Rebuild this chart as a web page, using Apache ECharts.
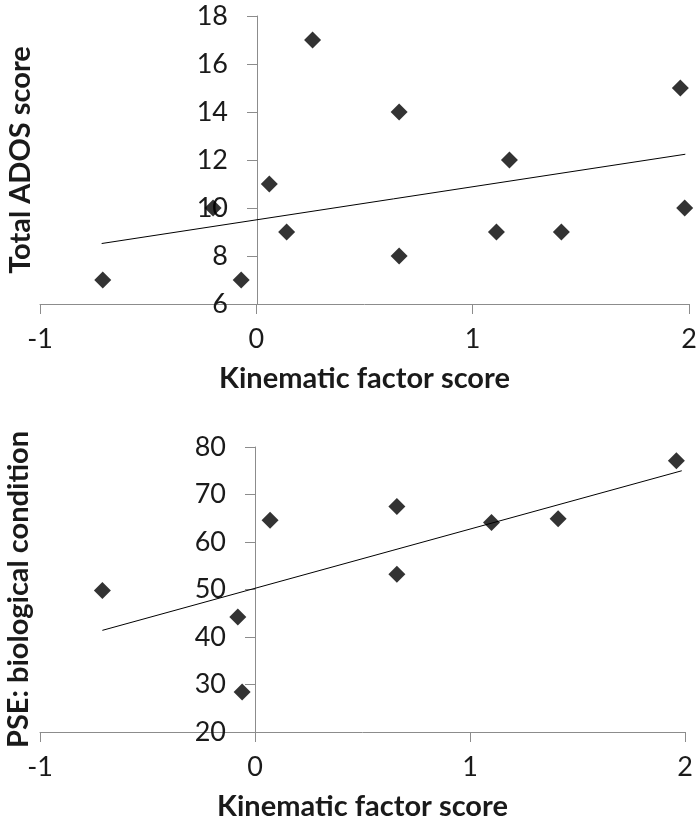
<!DOCTYPE html>
<html>
<head>
<meta charset="utf-8">
<script src="https://cdn.jsdelivr.net/npm/echarts@6/dist/echarts.min.js"></script>
<style>
  html, body { margin: 0; padding: 0; background: #fff; }
  #chart { width: 700px; height: 819px; }
</style>
</head>
<body>
<div id="chart"></div>
<script>
// top panel: ADOS vs kinematic factor
const adosPoints = [
  [-0.71, 7], [-0.2, 10], [-0.07, 7], [0.06, 11], [0.14, 9], [0.26, 17],
  [0.66, 14], [0.66, 8], [1.11, 9], [1.17, 12], [1.41, 9], [1.96, 15], [1.98, 10]
];
const adosTrend = [[-0.715, 8.52], [1.983, 12.24]];

// bottom panel: PSE vs kinematic factor
const psePoints = [
  [-0.71, 49.8], [-0.08, 44.2], [-0.06, 28.4], [0.07, 64.6], [0.66, 67.5],
  [0.66, 53.2], [1.1, 64.1], [1.41, 64.9], [1.96, 77.1]
];
const pseTrend = [[-0.71, 41.4], [1.985, 75.0]];

const xTicks = { min: -1, max: 2, interval: 1 };
const adosTicks = { min: 6, max: 18, interval: 2 };
const pseTicks = { min: 20, max: 80, interval: 10 };

const font = "Lato, 'Open Sans', sans-serif";
const axisGray = "#8c8c8c";
const textColor = "#1a1a1a";

function xAxisFor(gridIndex) {
  return {
    gridIndex: gridIndex,
    type: "value",
    min: xTicks.min,
    max: xTicks.max,
    interval: xTicks.interval,
    name: "Kinematic factor score",
    nameLocation: "middle",
    nameGap: 60,
    nameTextStyle: { fontFamily: font, fontSize: 29, fontWeight: "bold", color: textColor },
    axisLine: { onZero: false, lineStyle: { color: axisGray, width: 1 } },
    axisTick: { show: true, length: 10, lineStyle: { color: axisGray } },
    axisLabel: { fontFamily: font, fontSize: 27, color: textColor, margin: 22 },
    splitLine: { show: false }
  };
}

// y axis sits at x = 0, so shift it right from the grid's left edge
function yAxisFor(gridIndex, ticks, name, shift) {
  return {
    gridIndex: gridIndex,
    type: "value",
    min: ticks.min,
    max: ticks.max,
    interval: ticks.interval,
    offset: -shift,
    name: name,
    nameLocation: "middle",
    nameGap: 222,
    nameTextStyle: { fontFamily: font, fontSize: 29, fontWeight: "bold", color: textColor },
    axisLine: { show: true, onZero: false, lineStyle: { color: axisGray, width: 1 } },
    axisTick: { show: true, length: 10, lineStyle: { color: axisGray } },
    axisLabel: { fontFamily: font, fontSize: 27, color: textColor, margin: 29 },
    splitLine: { show: false }
  };
}

const chart = echarts.init(document.getElementById("chart"));
chart.setOption({
  backgroundColor: "#fff",
  animation: false,
  grid: [
    { left: 40, right: 11, top: 16, height: 288, outerBoundsMode: "none", containLabel: false },
    { left: 40, right: 15, top: 447, height: 285, outerBoundsMode: "none", containLabel: false }
  ],
  xAxis: [xAxisFor(0), xAxisFor(1)],
  yAxis: [
    yAxisFor(0, adosTicks, "Total ADOS score", 217),
    yAxisFor(1, pseTicks, "PSE: biological condition", 215)
  ],
  series: [
    {
      type: "scatter", xAxisIndex: 0, yAxisIndex: 0, data: adosPoints,
      symbol: "diamond", symbolSize: 17, itemStyle: { color: "#000" }
    },
    {
      type: "line", xAxisIndex: 0, yAxisIndex: 0, data: adosTrend,
      showSymbol: false, lineStyle: { color: "#000", width: 1 }
    },
    {
      type: "scatter", xAxisIndex: 1, yAxisIndex: 1, data: psePoints,
      symbol: "diamond", symbolSize: 17, itemStyle: { color: "#000" }
    },
    {
      type: "line", xAxisIndex: 1, yAxisIndex: 1, data: pseTrend,
      showSymbol: false, lineStyle: { color: "#000", width: 1 }
    }
  ]
});
</script>
</body>
</html>
